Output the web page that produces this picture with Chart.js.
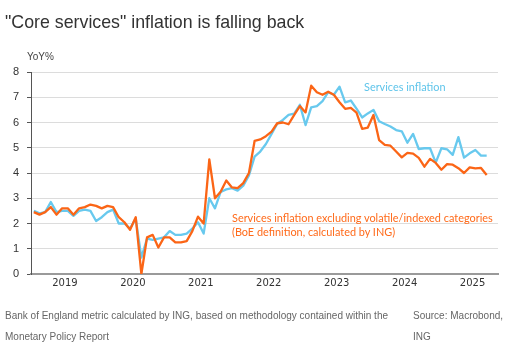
<!DOCTYPE html>
<html>
<head>
<meta charset="utf-8">
<script src="https://cdn.jsdelivr.net/npm/chart.js@4.4.1/dist/chart.umd.min.js"></script>
<style>
  html, body { margin: 0; padding: 0; background: #fff; }
  #wrap { position: relative; width: 527px; height: 354px; overflow: hidden; font-family: "Liberation Sans", Arial, sans-serif; }
  #c { position: absolute; left: 0; top: 0; }
  .t { position: absolute; white-space: nowrap; }
</style>
</head>
<body>
<div id="wrap">
  <canvas id="c" width="527" height="354"></canvas>
  <div class="t" style="left:5px;top:11px;font-size:17.8px;line-height:22px;color:#333;">"Core services" inflation is falling back</div>
  <div class="t" style="left:27px;top:50px;font-size:10px;line-height:14px;color:#444;">YoY%</div>
  <div class="t" style="left:364px;top:80px;font-family:Lato;font-size:10.9px;line-height:14px;color:#5ec4ea;">Services inflation</div>
  <div class="t" style="left:232px;top:211px;font-family:Lato;font-size:10.9px;line-height:13.5px;color:#ff6a1a;">Services inflation excluding volatile/indexed categories<br>(BoE definition, calculated by ING)</div>
  <div class="t" style="left:5px;top:304.5px;font-size:10px;line-height:21px;color:#666;">Bank of England metric calculated by ING, based on methodology contained within the<br>Monetary Policy Report</div>
  <div class="t" style="left:413px;top:304.5px;font-size:10px;line-height:21px;color:#666;">Source: Macrobond,<br>ING</div>
</div>
<script>
// Monthly observations: January 2019 to September 2025
const firstYear = 2019;
const monthCount = 81;
const months = [];
for (let k = 0; k < monthCount; k++) {
  const y = firstYear + Math.floor(k / 12);
  const m = (k % 12) + 1;
  months.push(y + '-' + String(m).padStart(2, '0'));
}

// Services CPI inflation, YoY %
const servicesInflation = [
  2.5, 2.4, 2.45, 2.85, 2.45, 2.5, 2.5, 2.3, 2.5, 2.55, 2.5, 2.1,
  2.25, 2.45, 2.55, 2.0, 2.0, 1.8, 2.2, 0.65, 1.4, 1.35, 1.4, 1.45,
  1.7, 1.55, 1.55, 1.6, 1.8, 2.05, 1.6, 3.0, 2.6, 3.25, 3.35, 3.4,
  3.3, 3.5, 3.9, 4.65, 4.85, 5.15, 5.55, 5.95, 6.1, 6.3, 6.35, 6.7,
  5.9, 6.6, 6.65, 6.85, 7.2, 7.1, 7.42, 6.8, 6.87, 6.55, 6.2, 6.36,
  6.5, 6.05, 5.94, 5.84, 5.7, 5.65, 5.2, 5.55, 4.95, 4.98, 4.98, 4.41,
  4.98, 4.94, 4.72, 5.42, 4.61, 4.78, 4.91, 4.69, 4.69
];

// Services inflation excluding volatile/indexed categories (BoE definition, ING calc), YoY %
const servicesExVolatile = [
  2.45, 2.35, 2.45, 2.65, 2.35, 2.6, 2.6, 2.35, 2.6, 2.65, 2.75, 2.7,
  2.6, 2.7, 2.65, 2.25, 2.05, 1.75, 2.25, 0.0, 1.45, 1.55, 1.05, 1.45,
  1.45, 1.25, 1.25, 1.3, 1.7, 2.27, 2.0, 4.54, 3.0, 3.26, 3.7, 3.43,
  3.4, 3.6, 4.0, 5.27, 5.33, 5.46, 5.64, 5.97, 6.0, 5.93, 6.3, 6.65,
  6.4, 7.46, 7.2, 7.1, 7.22, 7.1, 6.8, 6.54, 6.58, 6.39, 5.75, 5.8,
  6.3, 5.3, 5.11, 5.08, 4.85, 4.62, 4.8, 4.77, 4.6, 4.25, 4.56, 4.4,
  4.13, 4.35, 4.33, 4.19, 4.0, 4.22, 4.18, 4.2, 3.92
];

const yearTicks = [2019, 2020, 2021, 2022, 2023, 2024, 2025];
const yTicks = [0, 1, 2, 3, 4, 5, 6, 7, 8];

function monthToX(label) {
  const [y, m] = label.split('-').map(Number);
  return y + (m - 0.5) / 12;
}
function toPoints(values) {
  return values.map((v, i) => ({ x: monthToX(months[i]), y: v }));
}

new Chart(document.getElementById('c'), {
  type: 'line',
  data: {
    datasets: [
      {
        label: 'Services inflation excluding volatile/indexed categories',
        data: toPoints(servicesExVolatile),
        borderColor: '#fb6516',
        borderWidth: 2.3,
        pointRadius: 0,
        tension: 0,
        borderJoinStyle: 'round'
      },
      {
        label: 'Services inflation',
        data: toPoints(servicesInflation),
        borderColor: '#68c9ee',
        borderWidth: 2.3,
        pointRadius: 0,
        tension: 0,
        borderJoinStyle: 'round'
      }
    ]
  },
  options: {
    responsive: false,
    animation: false,
    devicePixelRatio: 1,
    layout: { padding: { left: 0, top: 72, right: 29, bottom: 0 } },
    plugins: { legend: { display: false }, title: { display: false }, tooltip: { enabled: false } },
    scales: {
      x: {
        type: 'linear',
        min: 2019,
        max: 2025.875,
        grid: { display: false, drawTicks: false },
        border: { display: true, color: '#9a9a9a', width: 2 },
        afterBuildTicks: (s) => { s.ticks = yearTicks.map(y => ({ value: y + 0.5 })); },
        afterFit: (s) => { s.height = 80; },
        ticks: {
          autoSkip: false,
          maxRotation: 0,
          padding: 3,
          color: '#333',
          font: { family: 'DejaVu Sans', size: 10 },
          callback: (v) => String(Math.floor(v))
        }
      },
      y: {
        min: 0,
        max: 8,
        afterBuildTicks: (s) => { s.ticks = yTicks.map(v => ({ value: v })); },
        afterFit: (s) => { s.width = 31; },
        grid: { color: '#dcdcdc', tickColor: '#555', tickLength: 4, lineWidth: 1 },
        border: { display: true, color: '#555', width: 1 },
        ticks: {
          padding: 8,
          color: '#333',
          font: { family: 'Liberation Sans', size: 11 }
        }
      }
    }
  }
});
</script>
</body>
</html>
